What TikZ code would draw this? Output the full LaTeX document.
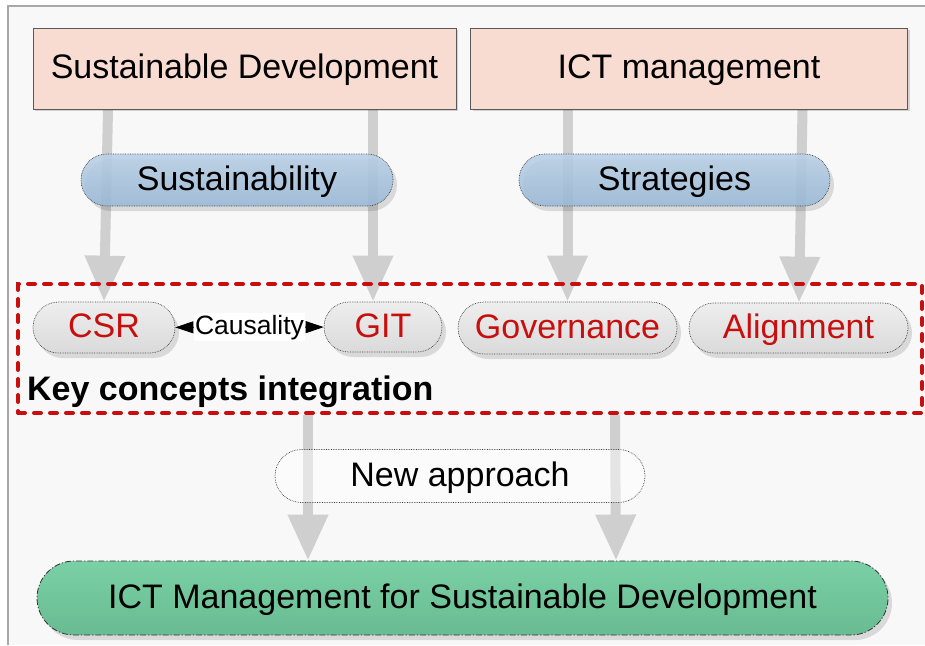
\documentclass[tikz,border=0pt]{standalone}
\usepackage{fontspec}
\setmainfont{Liberation Sans}
\usetikzlibrary{arrows.meta,shadows,shapes.misc}
\pgfdeclarelayer{back}
\pgfdeclarelayer{flow}
\pgfsetlayers{back,flow,main}

\definecolor{pagefill}{HTML}{F8F8F8}
\definecolor{framegray}{HTML}{A8A8A8}
\definecolor{pinkfill}{HTML}{F8DCD2}
\definecolor{boxedge}{HTML}{5A5A5A}
\definecolor{bluetop}{HTML}{BAD1E7}
\definecolor{bluebot}{HTML}{99B9D7}
\definecolor{graytop}{HTML}{EEEEEE}
\definecolor{graybot}{HTML}{DADADA}
\definecolor{greentop}{HTML}{7AD0A5}
\definecolor{greenbot}{HTML}{69BB92}
\definecolor{arrowgray}{HTML}{CFCFCF}
\definecolor{keyred}{HTML}{C80F0F}

\tikzset{causetip/.tip={Triangle[length=18pt,width=12pt]}}

\begin{document}
\begin{tikzpicture}[x=1pt,y=-1pt,
  big/.style={font=\fontsize{34}{40}\selectfont, text height=24.3pt, text depth=3.6pt},
  softshadow/.style={drop shadow={shadow xshift=4pt,shadow yshift=-5pt,fill=black,opacity=0.12}},
  titlebox/.style={big, draw=boxedge, line width=1pt, fill=pinkfill, inner sep=0pt,
    drop shadow={shadow xshift=2pt,shadow yshift=-2pt,fill=black,opacity=0.15}},
  pill/.style={big, rounded rectangle, inner sep=0pt, draw=black!75, densely dotted,
    line width=0.7pt},
  bluepill/.style={pill, softshadow, top color=bluetop, bottom color=bluebot, fill opacity=0.88, text opacity=1},
  graypill/.style={pill, softshadow, top color=graytop, bottom color=graybot, text=keyred},
  flowarrow/.style={draw=arrowgray, line width=10pt, -{Triangle[width=38pt,length=46pt]}}
]
\useasboundingbox (0,0) rectangle (925,645);

% page background and frame
\begin{pgfonlayer}{back}
  \fill[pagefill] (8,6) rectangle (925,645);
  \draw[framegray, line width=1.5pt] (8,645) -- (8,6) -- (925,6);
\end{pgfonlayer}

% sources
\node[titlebox, minimum width=423pt, minimum height=81pt] (sd) at (244.5,68.5) {Sustainable Development};
\node[titlebox, minimum width=437pt, minimum height=81pt] (ict) at (689,68.5) {ICT management};

% drivers
\node[bluepill, minimum width=312pt, minimum height=52pt] (sust) at (237,180) {Sustainability};
\node[bluepill, minimum width=311pt, minimum height=52pt] (strat) at (674.5,180) {Strategies};

% key concepts
\node[graypill, minimum width=142pt, minimum height=51pt] (csr) at (104,327.5) {CSR};
\node[graypill, minimum width=118pt, minimum height=50pt] (git) at (383,327) {GIT};
\node[graypill, minimum width=219pt, minimum height=52pt] (gov) at (567.5,328) {Governance};
\node[graypill, minimum width=219pt, minimum height=50pt] (align) at (798.5,328) {Alignment};

\node[draw=keyred, line width=4pt, line cap=round, dash pattern=on 7pt off 9pt,
      minimum width=904pt, minimum height=129pt, inner sep=0pt] (key) at (470,348.5) {};
\node[font=\fontsize{34}{40}\selectfont\bfseries, anchor=base west, inner sep=0pt]
  (keylabel) at (27,400) {Key concepts integration};

\draw[causetip-causetip, line width=0.8pt] (csr) --
  node[fill=white, inner sep=1.5pt, font=\fontsize{26.5}{30}\selectfont] (cause) {Causality} (git);

% new approach and outcome
\node[pill, fill=white, fill opacity=0.45, text opacity=1, minimum width=370pt, minimum height=53pt]
  (newap) at (460,476) {New approach};
\node[big, rounded rectangle, inner sep=0pt, draw=black!80, line width=0.8pt,
      dash pattern=on 6pt off 2pt on 1.2pt off 2pt, top color=greentop, bottom color=greenbot,
      softshadow, minimum width=851pt, minimum height=74pt]
  (goal) at (462.5,598) {ICT Management for Sustainable Development};

% flow arrows
\begin{pgfonlayer}{flow}
  \draw[flowarrow] ([xshift=-136.5pt]sd.south) -- (csr.north);
  \draw[flowarrow] ([xshift=128.5pt]sd.south) -- ([xshift=-10pt]git.north);
  \draw[flowarrow] ([xshift=-121.5pt]ict.south) -- (gov.north);
  \draw[flowarrow] ([xshift=113.5pt]ict.south) -- ([xshift=0.5pt]align.north);
  \draw[flowarrow] ([xshift=-162pt]key.south) -- ([xshift=-154.5pt]goal.north);
  \draw[flowarrow] ([xshift=145pt]key.south) -- ([xshift=153.5pt]goal.north);
\end{pgfonlayer}
\end{tikzpicture}
\end{document}
